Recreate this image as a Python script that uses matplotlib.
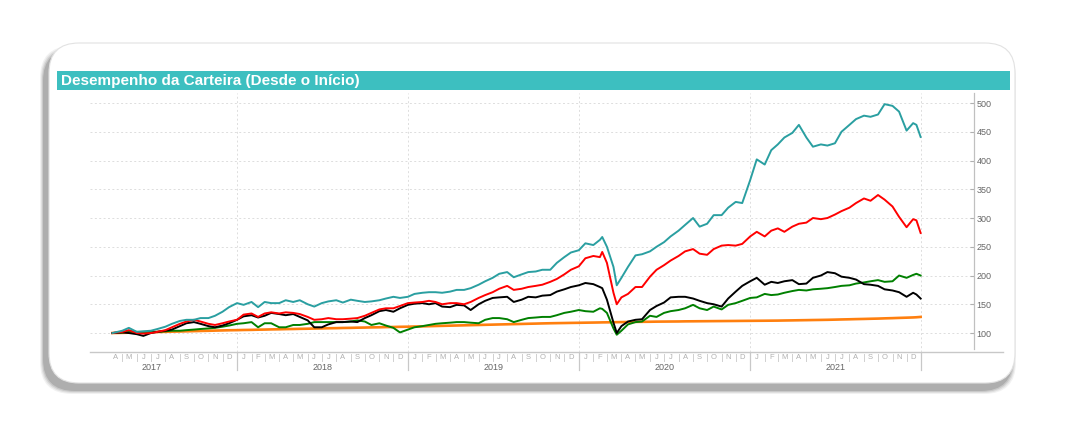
import numpy as np
import pandas as pd
import matplotlib
matplotlib.use('Agg')
import matplotlib.pyplot as plt
from matplotlib.patches import FancyBboxPatch, Rectangle
from matplotlib.lines import Line2D

plt.rcParams['font.family'] = ['Liberation Sans', 'DejaVu Sans']

# datas: 1 e 15 de cada mes + alguns pontos extras (inicio, crise de 2020, fim)
datas = pd.date_range('2017-05-01', '2021-12-15', freq='SMS')
extras = pd.to_datetime(['2017-04-10', '2020-02-20', '2020-03-22', '2021-12-22', '2021-12-31'])
datas = datas.union(extras).sort_values()

carteira = [100, 104, 109, 102, 103, 104, 107, 111, 116, 121, 123, 123, 126, 126, 130, 137, 145,
            152, 149, 154, 145, 154, 152, 152, 157, 154, 157, 150, 146, 152, 155, 157, 153, 158, 156, 154, 155, 157, 160, 163, 161,
            163, 168, 170, 171, 171, 170, 172, 175, 175, 178, 184, 190, 196, 203, 206, 197, 202, 206, 207, 210, 210, 222, 232, 240,
            244, 256, 253, 262, 267, 250, 215, 183, 196, 215, 235, 237, 242, 250, 258, 268, 278, 288, 300, 285, 290, 305, 305, 318, 328, 326,
            366, 402, 393, 418, 428, 440, 448, 462, 440, 424, 428, 426, 430, 450, 462, 472, 478, 476, 480, 498, 495, 485, 452, 465, 462, 441]

serie_vermelha = [100, 102, 105, 100, 99, 100, 102, 105, 110, 116, 120, 123, 120, 116, 114, 117, 120,
                  123, 132, 134, 128, 134, 136, 134, 136, 135, 133, 128, 123, 124, 126, 124, 124, 125, 126, 130, 135, 141, 143, 143, 147,
                  152, 153, 154, 156, 154, 150, 152, 152, 150, 154, 161, 166, 171, 177, 182, 175, 177, 180, 182, 184, 189, 194, 202, 210,
                  216, 230, 234, 232, 241, 222, 170, 150, 162, 168, 180, 180, 198, 210, 218, 226, 234, 242, 246, 238, 236, 246, 252, 253, 252, 255,
                  268, 276, 268, 278, 282, 276, 285, 290, 292, 300, 298, 300, 306, 312, 318, 326, 334, 330, 340, 332, 320, 302, 284, 298, 296, 274]

ibovespa = [100, 101, 100, 98, 95, 100, 102, 104, 106, 112, 117, 119, 116, 112, 110, 113, 117,
            123, 129, 131, 127, 130, 135, 133, 131, 133, 128, 122, 110, 110, 115, 119, 119, 120, 119, 126, 131, 138, 140, 137, 143,
            149, 151, 152, 150, 152, 146, 145, 149, 148, 140, 150, 156, 161, 162, 163, 154, 158, 163, 162, 165, 166, 172, 176, 180,
            183, 187, 185, 180, 178, 158, 118, 100, 112, 120, 123, 124, 140, 147, 153, 162, 163, 163, 160, 156, 152, 150, 146, 160, 172, 182,
            190, 196, 184, 189, 187, 190, 192, 185, 186, 196, 200, 206, 204, 198, 196, 193, 185, 184, 182, 176, 174, 171, 163, 170, 167, 160]

serie_verde = [100, 101, 103, 102, 102, 102, 102, 103, 104, 104, 105, 106, 107, 108, 109, 111, 113,
               116, 117, 119, 110, 117, 117, 110, 110, 114, 114, 116, 119, 119, 119, 119, 119, 120, 122, 120, 114, 117, 113, 109, 101,
               106, 110, 112, 114, 116, 117, 118, 119, 119, 118, 117, 123, 126, 126, 124, 119, 123, 126, 127, 128, 128, 131, 135, 137,
               140, 138, 137, 143, 142, 135, 108, 97, 104, 115, 119, 120, 130, 128, 135, 138, 140, 143, 149, 143, 140, 146, 141, 149, 152, 156,
               161, 162, 168, 166, 167, 170, 173, 175, 174, 176, 177, 178, 180, 182, 183, 186, 188, 190, 192, 189, 190, 200, 196, 201, 203, 200]

cdi = [100.0, 100.3, 100.6, 100.9, 101.2, 101.5, 101.8, 102.1, 102.4, 102.7, 103.0, 103.3, 103.6, 103.9, 104.2, 104.5, 104.8,
       105.0, 105.3, 105.5, 105.8, 106.0, 106.3, 106.5, 106.8, 107.0, 107.3, 107.5, 107.8, 108.0, 108.3, 108.5, 108.8, 109.0, 109.3, 109.5, 109.8, 110.0, 110.3, 110.5, 110.8,
       111.0, 111.3, 111.6, 111.9, 112.2, 112.5, 112.8, 113.1, 113.4, 113.7, 114.0, 114.3, 114.6, 114.9, 115.2, 115.5, 115.8, 116.1, 116.4, 116.7, 117.0, 117.2, 117.4, 117.6,
       117.8, 118.0, 118.2, 118.4, 118.5, 118.6, 118.8, 118.9, 119.0, 119.2, 119.4, 119.5, 119.6, 119.8, 119.9, 120.0, 120.1, 120.3, 120.4, 120.5, 120.6, 120.7, 120.8, 120.9, 121.0, 121.1,
       121.2, 121.3, 121.4, 121.5, 121.6, 121.8, 122.0, 122.2, 122.4, 122.6, 122.8, 123.0, 123.3, 123.6, 123.9, 124.2, 124.5, 124.8, 125.1, 125.5, 125.9, 126.3, 126.7, 127.1, 127.4, 128.0]

meses = ['J', 'F', 'M', 'A', 'M', 'J', 'J', 'A', 'S', 'O', 'N', 'D']
anos = [2017, 2018, 2019, 2020, 2021]
y_ticks = [100, 150, 200, 250, 300, 350, 400, 450, 500]

W, H = 1080, 448
fig = plt.figure(figsize=(W / 100, H / 100), dpi=100)

# fundo em coordenadas de pixel (cartao com sombra + barra de titulo)
bg = fig.add_axes([0, 0, 1, 1])
bg.set_xlim(0, W)
bg.set_ylim(H, 0)
bg.axis('off')

for k, a in enumerate([0.07, 0.10, 0.14, 0.20]):
    grow = 4 - k
    bg.add_patch(FancyBboxPatch((44 - grow, 50 - grow), 968 + 2 * grow, 340 + 2 * grow,
                                boxstyle='round,pad=0,rounding_size=32', fc='#444444', ec='none', alpha=a))
bg.add_patch(FancyBboxPatch((49, 43), 966, 340, boxstyle='round,pad=0,rounding_size=30',
                            fc='white', ec='#e2e2e2', lw=0.8))
bg.add_patch(Rectangle((57, 71), 953, 19, fc='#3dbfc0', ec='none'))
bg.text(61, 81, 'Desempenho da Carteira (Desde o Início)', color='white', fontsize=11,
        fontweight='bold', va='center', ha='left')
# linha do eixo x (passa do eixo y)
bg.add_line(Line2D([90, 1003], [352, 352], color='#c8c8c8', lw=1.0))

# grafico
ax = fig.add_axes([90 / W, (H - 352) / H, (974 - 90) / W, (352 - 93) / H])
ax.patch.set_alpha(0)
ax.set_xlim(pd.Timestamp('2017-02-21'), pd.Timestamp('2022-04-24'))
ax.set_ylim(67, 517.4)

ax.plot(datas, cdi, color='#ff7f0e', lw=1.9, zorder=3)
ax.plot(datas, serie_verde, color='#008000', lw=1.4, zorder=4)
ax.plot(datas, ibovespa, color='black', lw=1.4, zorder=5)
ax.plot(datas, serie_vermelha, color='#ff0000', lw=1.4, zorder=6)
ax.plot(datas, carteira, color='#2a9fa1', lw=1.4, zorder=7)

for v in y_ticks:
    ax.axhline(v, color='#dddddd', lw=0.7, ls=(0, (2, 2.5)), zorder=1)
for ano in anos:
    ax.axvline(pd.Timestamp(f'{ano + 1}-01-01'), color='#dddddd', lw=0.7, ls=(0, (2, 2.5)), zorder=1)

for s in ['left', 'top', 'bottom']:
    ax.spines[s].set_visible(False)
ax.spines['right'].set_color('#c0c0c0')
ax.spines['right'].set_linewidth(0.9)
ax.spines['right'].set_bounds(72, 517)
ax.yaxis.tick_right()
ax.set_yticks(y_ticks)
ax.set_yticklabels([str(v) for v in y_ticks])
ax.tick_params(axis='y', direction='in', length=3, color='#b0b0b0', labelsize=6.5,
               labelcolor='#666666', pad=2)
ax.set_xticks([])

# rotulos de meses e anos
tr = ax.get_xaxis_transform()
for ano in anos:
    primeiro = 4 if ano == 2017 else 1
    for m in range(primeiro, 13):
        meio = pd.Timestamp(ano, m, 15) if not (ano == 2017 and m == 4) else pd.Timestamp('2017-04-16')
        ax.text(meio, -0.02, meses[m - 1], transform=tr, ha='center', va='center',
                fontsize=5.5, color='#b0b0b0', clip_on=False)
        if m > primeiro:
            ax.add_line(Line2D([pd.Timestamp(ano, m, 1)] * 2, [-0.006, -0.036], transform=tr,
                               color='#d0d0d0', lw=0.7, clip_on=False))
    ax.text(pd.Timestamp(ano, 7, 2), -0.058, str(ano), transform=tr, ha='center', va='center',
            fontsize=6.5, color='#666666', clip_on=False)
    ax.add_line(Line2D([pd.Timestamp(ano + 1, 1, 1)] * 2, [-0.004, -0.07], transform=tr,
                       color='#c8c8c8', lw=0.9, clip_on=False))

fig.savefig('out.png', dpi=100)
